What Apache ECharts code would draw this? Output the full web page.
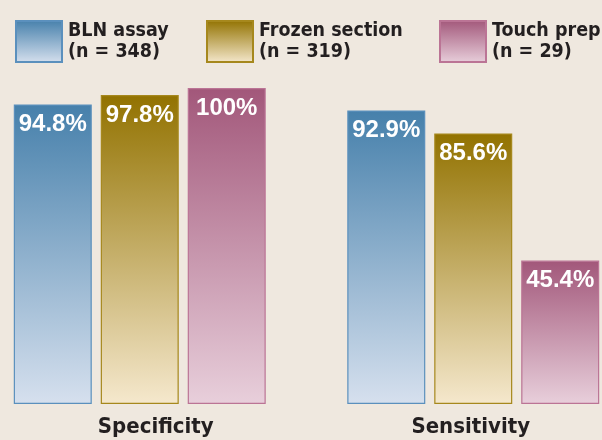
<!DOCTYPE html>
<html><head><meta charset="utf-8">
<script src="https://cdn.jsdelivr.net/npm/echarts@6/dist/echarts.min.js"></script>
<style>html,body{margin:0;padding:0;background:#efe8df}#c{width:602px;height:440px}</style>
</head><body><div id="c"></div>
<script>
// ---- data ----
const categories = ['Specificity', 'Sensitivity'];
const seriesNames = ['BLN assay', 'Frozen section', 'Touch prep'];
const sampleSizes = [348, 319, 29];
const blnValues = [94.8, 92.9];
const frozenValues = [97.8, 85.6];
const touchValues = [100, 45.4];

// ---- style ----
const condensed = "'DejaVu Sans Condensed', 'Liberation Sans Narrow', 'Roboto Condensed', sans-serif";
const textDark = '#231f20';
const palettes = [
  { top: '#4680ab', bottom: '#d6e0ee', border: '#5b90bd' },
  { top: '#927200', bottom: '#f5e8cd', border: '#a6881d' },
  { top: '#a2577a', bottom: '#e8cfdb', border: '#bb7495' }
];
const legendLefts = [15, 206, 439];

function grad(p) {
  return new echarts.graphic.LinearGradient(0, 0, 0, 1, [
    { offset: 0, color: p.top }, { offset: 1, color: p.bottom }
  ]);
}

const valueLists = [blnValues, frozenValues, touchValues];
const series = seriesNames.map((name, i) => ({
  name: name,
  type: 'bar',
  data: valueLists[i],
  barWidth: 78,
  barGap: '11.5%',
  itemStyle: { color: grad(palettes[i]), borderColor: palettes[i].border, borderWidth: 1.2 },
  label: {
    show: true,
    position: 'insideTop',
    distance: 8,
    color: '#ffffff',
    fontFamily: "'Liberation Sans', Arial, sans-serif",
    fontWeight: 'bold',
    fontSize: 24,
    formatter: p => p.value + '%'
  }
}));

const legends = seriesNames.map((name, i) => ({
  data: [name],
  left: legendLefts[i],
  top: 20,
  padding: 0,
  orient: 'horizontal',
  itemWidth: 46,
  itemHeight: 41,
  itemGap: 6,
  selectedMode: false,
  icon: 'rect',
  formatter: n => n + '\n(n = ' + sampleSizes[i] + ')',
  textStyle: {
    color: textDark,
    fontFamily: condensed,
    fontWeight: 'bold',
    fontSize: 19.5,
    lineHeight: 21,
    padding: [0, 0, 0, 1]
  }
}));

const chart = echarts.init(document.getElementById('c'), null, { renderer: 'canvas' });
chart.setOption({
  backgroundColor: '#efe8df',
  animation: false,
  legend: legends,
  grid: { left: -27, width: 667, top: 88, bottom: 36, outerBoundsMode: 'none', containLabel: false },
  xAxis: {
    type: 'category',
    data: [
      { value: categories[0], textStyle: { padding: [0, 0, 0, 32] } },
      { value: categories[1], textStyle: { padding: [0, 5, 0, 0] } }
    ],
    axisLine: { show: false },
    axisTick: { show: false },
    axisLabel: {
      color: textDark,
      fontFamily: condensed,
      fontWeight: 'bold',
      fontSize: 22,
      margin: 12
    }
  },
  yAxis: { type: 'value', min: 0, max: 100, show: false },
  series: series
});
</script>
</body></html>
